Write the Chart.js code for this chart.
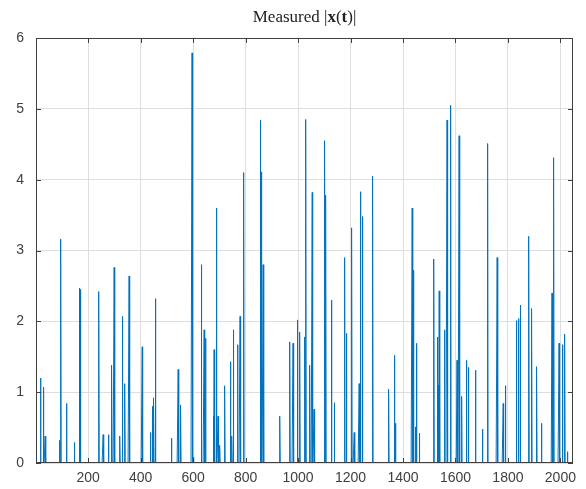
<!DOCTYPE html>
<html>
<head>
<meta charset="utf-8">
<script src="https://cdn.jsdelivr.net/npm/chart.js@4"></script>
<style>
    html, body { margin: 0; padding: 0; background: #ffffff; }
    #wrap { width: 586px; height: 489px; }
</style>
</head>
<body>
<div id="wrap"><canvas id="measuredChart" width="586" height="489"></canvas></div>
<script>
/* Measured |x(t)| - sparse spikes over 2048 samples */

const sampleCount = 2048;

// sample index of each spike and its height
const spikeIndex = [19, 29, 36, 90, 96, 118, 148, 167, 171, 241, 257, 278, 290, 299, 321, 330, 340, 356,
    406, 438, 445, 450, 457, 518, 543, 553, 596, 597, 600, 632, 642, 643, 647, 677, 680, 689, 695, 702,
    721, 743, 748, 753, 769, 779, 793, 857, 861, 867, 931, 969, 981, 998, 1007, 1026, 1030, 1045, 1054,
    1061, 1102, 1106, 1128, 1139, 1178, 1185, 1205, 1214, 1233, 1238, 1246, 1285, 1346, 1368, 1372,
    1435, 1439, 1449, 1452, 1462, 1518, 1532, 1534, 1538, 1559, 1568, 1582, 1606, 1614, 1624, 1642,
    1650, 1676, 1703, 1723, 1759, 1782, 1791, 1833, 1841, 1848, 1880, 1891, 1910, 1928, 1968, 1975,
    1995, 2008, 2017, 2027];
const spikeValue = [1.20, 1.07, 0.38, 0.32, 3.16, 0.84, 0.29, 2.47, 2.45, 2.42, 0.40, 0.40, 1.38, 2.76, 0.38, 2.07, 1.12, 2.64,
    1.64, 0.43, 0.80, 0.92, 2.32, 0.35, 1.32, 0.82, 5.79, 4.10, 0.08, 2.80, 1.88, 1.34, 1.76, 0.66, 1.60, 3.60, 0.66, 0.25,
    1.09, 1.43, 0.38, 1.88, 1.67, 2.07, 4.10, 4.84, 4.11, 2.80, 0.66, 1.71, 1.69, 2.02, 1.85, 1.78, 4.85, 1.38, 3.82,
    0.76, 4.55, 3.78, 2.30, 0.85, 2.90, 1.83, 3.32, 0.43, 1.12, 3.83, 3.48, 4.05, 1.04, 1.52, 0.56,
    3.60, 2.72, 0.51, 1.69, 0.42, 2.88, 1.78, 1.10, 2.43, 1.88, 4.84, 5.05, 1.45, 4.62, 0.94, 1.45,
    1.35, 1.31, 0.48, 4.51, 2.90, 0.84, 1.09, 2.01, 2.04, 2.23, 3.20, 2.18, 1.36, 0.56, 2.40, 4.31,
    1.69, 1.67, 1.82, 0.16];

const xTicks = [200, 400, 600, 800, 1000, 1200, 1400, 1600, 1800, 2000];
const yTicks = [0, 1, 2, 3, 4, 5, 6];

function buildSeries() {
    const values = new Array(sampleCount).fill(0);
    spikeIndex.forEach((idx, k) => { values[idx - 1] = spikeValue[k]; });
    return values.map((v, i) => ({ x: i + 1, y: v }));
}

// MATLAB style: box round the axes, ticks pointing inwards, mixed-weight title
const matlabAxes = {
    id: 'matlabAxes',
    afterDraw(chart) {
        const { ctx, chartArea: a, scales } = chart;
        ctx.save();
        ctx.strokeStyle = '#404040';
        ctx.lineWidth = 1;
        ctx.strokeRect(a.left + 0.5, a.top + 0.5, a.right - a.left - 1, a.bottom - a.top - 1);
        const len = 5;
        ctx.beginPath();
        xTicks.forEach(t => {
            const px = Math.round(scales.x.getPixelForValue(t)) + 0.5;
            ctx.moveTo(px, a.bottom); ctx.lineTo(px, a.bottom - len);
            ctx.moveTo(px, a.top); ctx.lineTo(px, a.top + len);
        });
        yTicks.forEach(t => {
            const py = Math.round(scales.y.getPixelForValue(t)) + 0.5;
            ctx.moveTo(a.left, py); ctx.lineTo(a.left + len, py);
            ctx.moveTo(a.right, py); ctx.lineTo(a.right - len, py);
        });
        ctx.stroke();

        // title: Measured |x(t)| with bold x and t
        const parts = [
            ['Measured |', 'normal'],
            ['x', 'bold'],
            ['(', 'normal'],
            ['t', 'bold'],
            [')|', 'normal']
        ];
        const font = w => w + ' 17px "Liberation Serif", "DejaVu Serif", serif';
        let total = 0;
        parts.forEach(p => { ctx.font = font(p[1]); total += ctx.measureText(p[0]).width; });
        let x = (a.left + a.right) / 2 - total / 2;
        ctx.fillStyle = '#222222';
        ctx.textBaseline = 'middle';
        parts.forEach(p => {
            ctx.font = font(p[1]);
            ctx.fillText(p[0], x, 18);
            x += ctx.measureText(p[0]).width;
        });
        ctx.restore();
    }
};

const ctx = document.getElementById('measuredChart').getContext('2d');
new Chart(ctx, {
    type: 'line',
    data: {
        datasets: [{
            data: buildSeries(),
            borderColor: '#0072BD',
            borderWidth: 1,
            pointRadius: 0,
            tension: 0,
            fill: false
        }]
    },
    options: {
        responsive: false,
        animation: false,
        events: [],
        layout: { padding: { top: 38, right: 13, left: 0, bottom: 0 } },
        plugins: {
            legend: { display: false },
            title: { display: false },
            tooltip: { enabled: false }
        },
        scales: {
            x: {
                type: 'linear',
                min: 1,
                max: sampleCount,
                afterBuildTicks: axis => { axis.ticks = xTicks.map(v => ({ value: v })); },
                afterFit: axis => { axis.height = 26; },
                grid: { color: '#dedede', drawTicks: false },
                border: { display: false },
                ticks: {
                    padding: 7,
                    maxRotation: 0,
                    autoSkip: false,
                    color: '#404040',
                    callback: value => String(value),
                    font: { family: '"Liberation Sans", Arial, sans-serif', size: 14 }
                }
            },
            y: {
                min: 0,
                max: 6,
                afterBuildTicks: axis => { axis.ticks = yTicks.map(v => ({ value: v })); },
                afterFit: axis => { axis.width = 36; },
                grid: { color: '#dedede', drawTicks: false },
                border: { display: false },
                ticks: {
                    padding: 12,
                    color: '#404040',
                    callback: value => String(value),
                    font: { family: '"Liberation Sans", Arial, sans-serif', size: 14 }
                }
            }
        }
    },
    plugins: [matlabAxes]
});
</script>
</body>
</html>
